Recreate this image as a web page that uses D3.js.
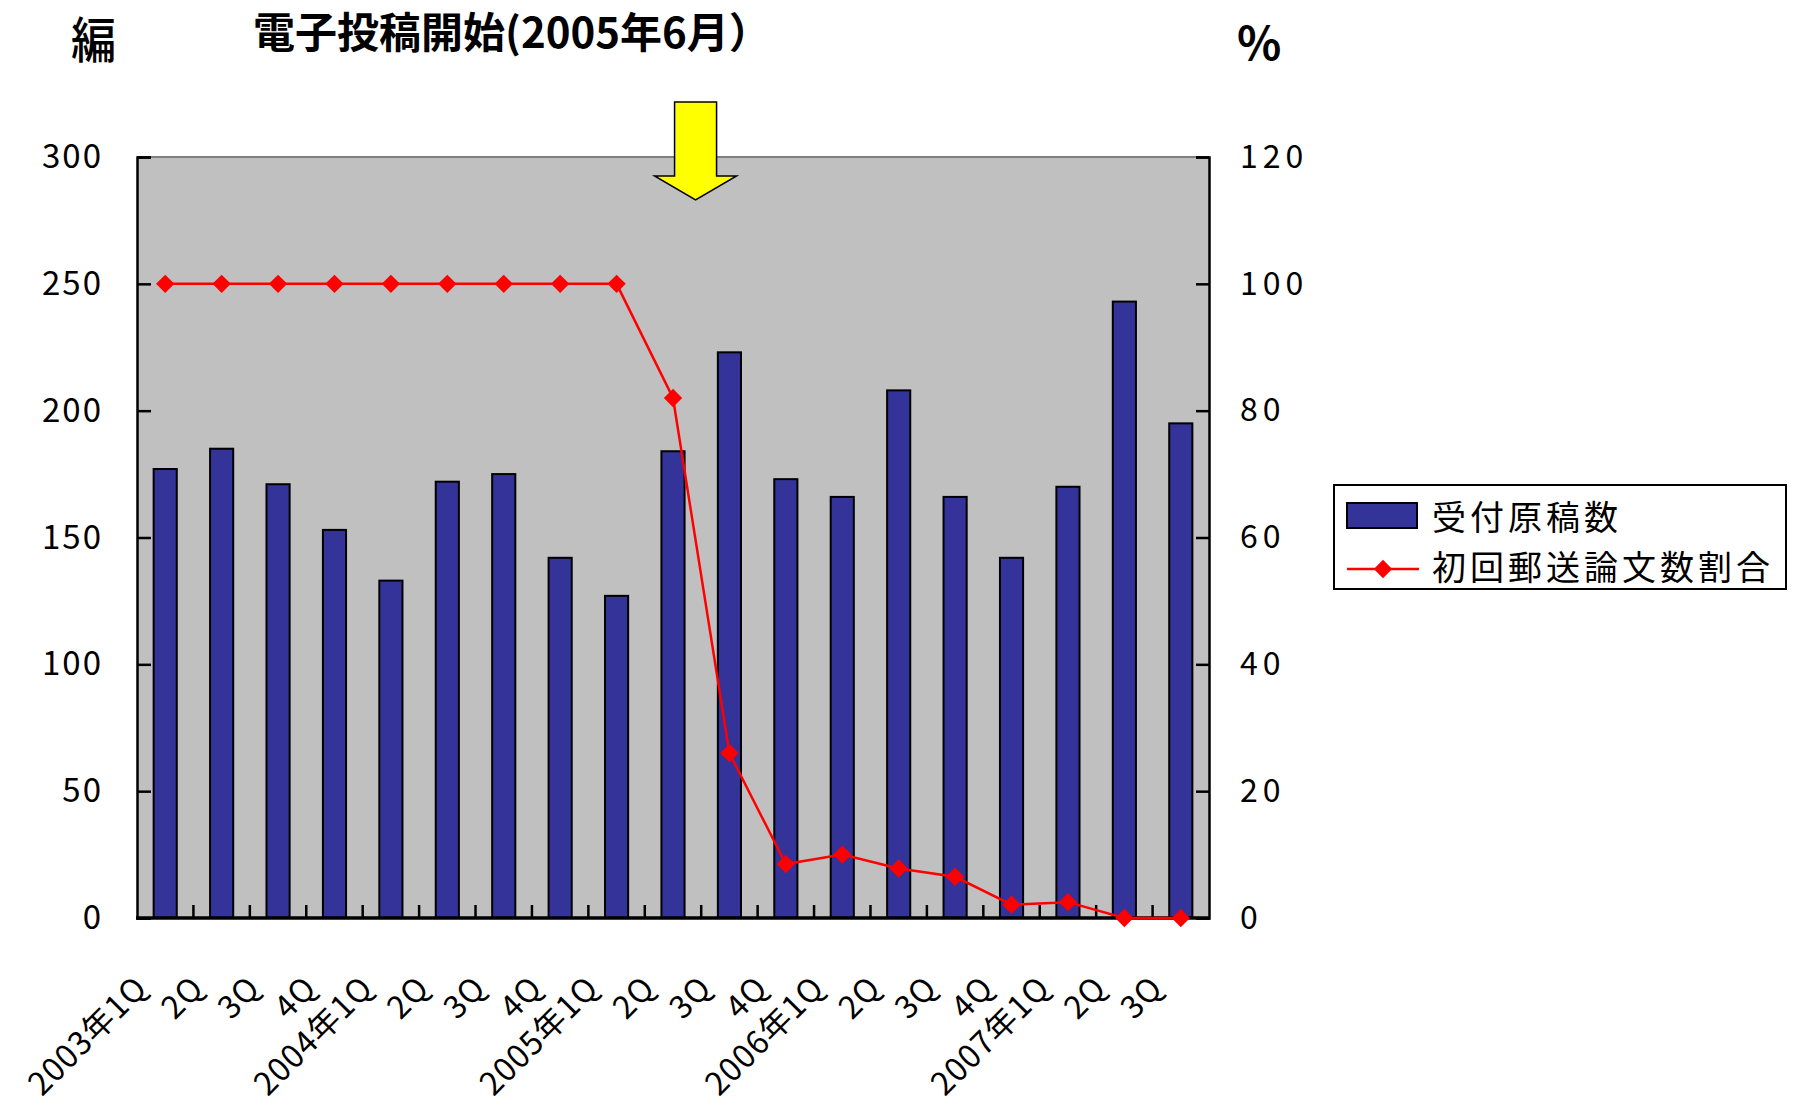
<!DOCTYPE html>
<html>
<head>
<meta charset="utf-8">
<script src="https://cdn.jsdelivr.net/npm/d3@7"></script>
<style>
  html, body { margin: 0; padding: 0; background: #fff; }
  svg text { font-family: "Noto Sans CJK JP", "Noto Sans", sans-serif; }
</style>
</head>
<body>
<div id="wrapper"></div>
<script>
const categories = [
  "2003年1Q", "2Q", "3Q", "4Q",
  "2004年1Q", "2Q", "3Q", "4Q",
  "2005年1Q", "2Q", "3Q", "4Q",
  "2006年1Q", "2Q", "3Q", "4Q",
  "2007年1Q", "2Q", "3Q"
];
const submissions = [177, 185, 171, 153, 133, 172, 175, 142, 127, 184, 223, 173, 166, 208, 166, 142, 170, 243, 195];
const mailedShare = [100, 100, 100, 100, 100, 100, 100, 100, 100, 82, 26, 8.5, 10, 7.8, 6.5, 2.1, 2.5, 0, 0];
const leftTicks = [0, 50, 100, 150, 200, 250, 300];
const rightTicks = [0, 20, 40, 60, 80, 100, 120];
const seriesNames = ["受付原稿数", "初回郵送論文数割合"];

const dimensions = {
  width: 1793,
  height: 1106,
  margin: { top: 157, right: 584, bottom: 188, left: 137 }
};
dimensions.boundedWidth = dimensions.width - dimensions.margin.left - dimensions.margin.right;
dimensions.boundedHeight = dimensions.height - dimensions.margin.top - dimensions.margin.bottom;

const svg = d3.select("#wrapper")
  .append("svg")
  .attr("width", dimensions.width)
  .attr("height", dimensions.height);

const bounds = svg.append("g")
  .attr("transform", `translate(${dimensions.margin.left},${dimensions.margin.top})`);

const idx = d3.range(categories.length);
const xScale = d3.scaleBand()
  .domain(idx)
  .range([0, dimensions.boundedWidth])
  .paddingInner(0.59)
  .paddingOuter(0.295);
const xCenter = i => xScale(i) + xScale.bandwidth() / 2;

const yLeft = d3.scaleLinear().domain([0, 300]).range([dimensions.boundedHeight, 0]);
const yRight = d3.scaleLinear().domain([0, 120]).range([dimensions.boundedHeight, 0]);

// plot background
bounds.append("rect")
  .attr("width", dimensions.boundedWidth)
  .attr("height", dimensions.boundedHeight)
  .attr("fill", "#c0c0c0");
bounds.append("line")
  .attr("x1", 0).attr("x2", dimensions.boundedWidth)
  .attr("y1", 0).attr("y2", 0)
  .attr("stroke", "#808080").attr("stroke-width", 2);

// bars
bounds.append("g")
  .selectAll("rect")
  .data(submissions)
  .join("rect")
  .attr("x", (d, i) => xScale(i))
  .attr("y", d => yLeft(d))
  .attr("width", xScale.bandwidth())
  .attr("height", d => yLeft(0) - yLeft(d))
  .attr("fill", "#333399")
  .attr("stroke", "#000")
  .attr("stroke-width", 2);

// left axis
const yAxisLeft = bounds.append("g")
  .call(d3.axisLeft(yLeft).tickValues(leftTicks).tickSize(-14).tickPadding(34));
yAxisLeft.select(".domain").attr("stroke-width", 2.5);
yAxisLeft.selectAll(".tick line").attr("stroke-width", 2.5);
yAxisLeft.selectAll(".tick text")
  .attr("font-size", 33)
  .attr("letter-spacing", 2)
  .attr("fill", "#000");

// right axis
const yAxisRight = bounds.append("g")
  .attr("transform", `translate(${dimensions.boundedWidth},0)`)
  .call(d3.axisRight(yRight).tickValues(rightTicks).tickSize(-13).tickPadding(31));
yAxisRight.select(".domain").attr("stroke-width", 2.5);
yAxisRight.selectAll(".tick line").attr("stroke-width", 2.5);
yAxisRight.selectAll(".tick text")
  .attr("font-size", 32)
  .attr("letter-spacing", 5)
  .attr("fill", "#000");

// x axis: inward ticks at band boundaries
const boundaries = d3.range(1, categories.length).map(i => xScale.step() * i);
const xAxis = bounds.append("g")
  .attr("transform", `translate(0,${dimensions.boundedHeight})`);
xAxis.selectAll("line.tick")
  .data(boundaries)
  .join("line")
  .attr("class", "tick")
  .attr("x1", d => d).attr("x2", d => d)
  .attr("y1", 0).attr("y2", -13)
  .attr("stroke", "#000").attr("stroke-width", 2.5);
xAxis.append("line")
  .attr("x1", -1).attr("x2", dimensions.boundedWidth + 1)
  .attr("y1", 0).attr("y2", 0)
  .attr("stroke", "#000").attr("stroke-width", 3.5);
xAxis.selectAll("text")
  .data(categories)
  .join("text")
  .attr("transform", (d, i) => `translate(${xCenter(i) - 16},72) rotate(-45)`)
  .attr("text-anchor", "end")
  .attr("font-size", 32)
  .attr("letter-spacing", 1)
  .attr("fill", "#000")
  .text(d => d);

// line series
const line = d3.line()
  .x((d, i) => xCenter(i))
  .y(d => yRight(d));
bounds.append("path")
  .datum(mailedShare)
  .attr("d", line)
  .attr("fill", "none")
  .attr("stroke", "#ff0000")
  .attr("stroke-width", 2.5);
const diamond = d3.symbol().type(d3.symbolDiamond2).size(215);
bounds.append("g")
  .selectAll("path")
  .data(mailedShare)
  .join("path")
  .attr("transform", (d, i) => `translate(${xCenter(i)},${yRight(d)})`)
  .attr("d", diamond)
  .attr("fill", "#ff0000");

// arrow marking the start of electronic submission (between 2005 2Q and 3Q)
const arrowX = xScale.step() * 9.9;
bounds.append("path")
  .attr("d", [
    [arrowX - 21, -55], [arrowX + 21, -55], [arrowX + 21, 19], [arrowX + 41, 19],
    [arrowX, 43], [arrowX - 41, 19], [arrowX - 21, 19]
  ].map((p, i) => (i ? "L" : "M") + p[0] + "," + p[1]).join("") + "Z")
  .attr("fill", "#ffff00")
  .attr("stroke", "#000")
  .attr("stroke-width", 1.5);

// titles
svg.append("text")
  .attr("transform", "translate(71,58) scale(0.92,1)")
  .attr("font-size", 49)
  .attr("font-weight", 500)
  .text("編");
svg.append("text")
  .attr("x", 253).attr("y", 48)
  .attr("font-size", 42)
  .attr("font-weight", 700)
  .text("電子投稿開始(2005年6月）");
svg.append("text")
  .attr("x", 1237).attr("y", 60)
  .attr("font-size", 46)
  .attr("font-weight", 700)
  .text("%");

// legend
const legend = svg.append("g").attr("transform", "translate(1334,485)");
legend.append("rect")
  .attr("width", 452).attr("height", 104)
  .attr("fill", "#fff")
  .attr("stroke", "#000").attr("stroke-width", 2);
legend.append("rect")
  .attr("x", 13).attr("y", 18)
  .attr("width", 70).attr("height", 25)
  .attr("fill", "#333399")
  .attr("stroke", "#000").attr("stroke-width", 2);
legend.append("line")
  .attr("x1", 13).attr("x2", 85)
  .attr("y1", 84).attr("y2", 84)
  .attr("stroke", "#ff0000").attr("stroke-width", 2.5);
legend.append("path")
  .attr("transform", "translate(49,84)")
  .attr("d", diamond)
  .attr("fill", "#ff0000");
legend.selectAll("text.item")
  .data(seriesNames)
  .join("text")
  .attr("class", "item")
  .attr("x", 98)
  .attr("y", (d, i) => 45 + i * 50)
  .attr("font-size", 34)
  .attr("letter-spacing", 4)
  .attr("fill", "#000")
  .text(d => d);
</script>
</body>
</html>
